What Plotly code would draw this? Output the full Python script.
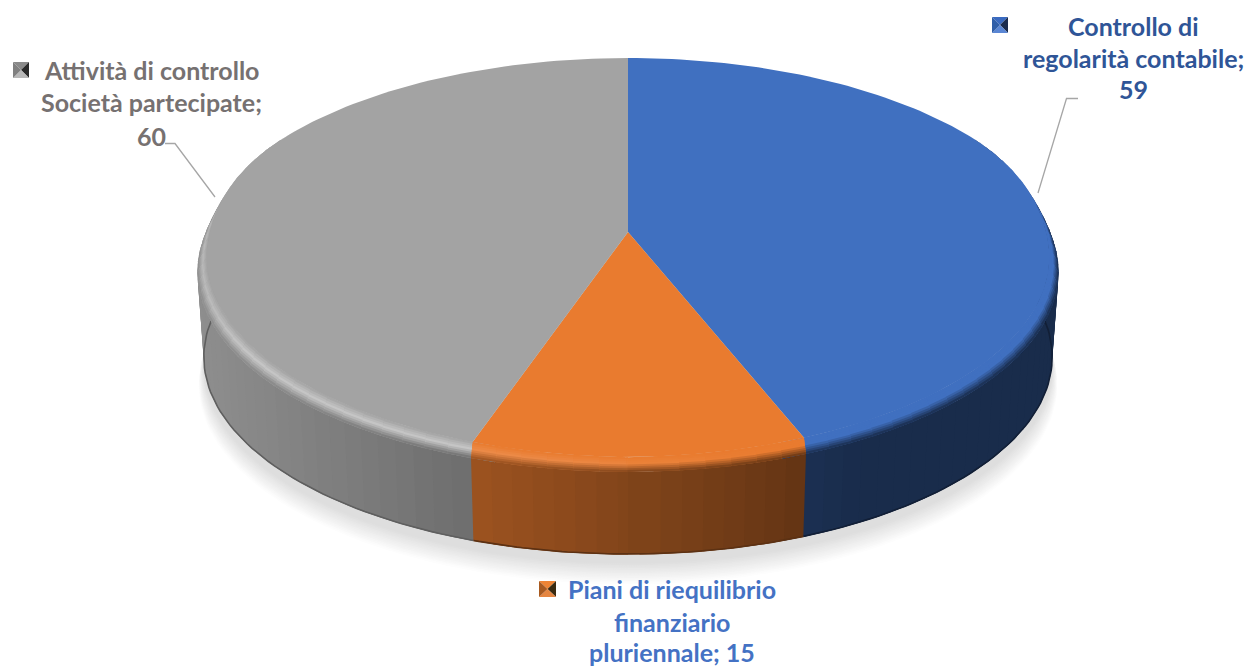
import numpy as np
import plotly.graph_objects as go

# ---- data (clockwise from 12 o'clock) ----
categories = ["Controllo di regolarità contabile", "Piani di riequilibrio finanziario pluriennale",
              "Attività di controllo Società partecipate"]
values = [59, 15, 60]
label_lines = [["Controllo di", "regolarità contabile;", "{v}"],
               ["Piani di riequilibrio", "finanziario", "pluriennale; {v}"],
               ["Attività di controllo", "Società partecipate;", "{v}"]]
top_colors = ["#4070c0", "#e97b2f", "#a3a3a3"]
text_colors = ["#2f5597", "#4472c4", "#767171"]
highlight = [0.04, 0.12, 0.38]

W, H = 1251, 668
CX, CY = 628.0, 232.0
A, B, RX = 196.6, 0.13, 427.0
FONT = "Lato"
FS = 25.0


def proj(t, r=1.0, dy=0.0, s=1.0, yc=CY):
    u, v = r * np.sin(t), r * np.cos(t)
    d = 1 + B * v
    return CX + s * RX * u / d, yc + dy - s * A * v / d


def smooth(x):
    x = np.clip(x, 0, 1)
    return x * x * (3 - 2 * x)


def flat_edge(t):
    w = smooth((0.55 - np.cos(t)) / 0.6)
    return proj(t, r=1 - 0.021 * w * (0.15 + 0.85 * np.abs(np.sin(t))))


def rim_edge(t):
    return proj(t, dy=14 * smooth((0.5 - np.cos(t)) / 0.5))


def wall_bottom(t):
    return proj(t, s=0.985, yc=332.0)


def rgb(h):
    return np.array([int(h[i:i + 2], 16) for i in (1, 3, 5)], float)


def col(c):
    return "rgb(%d,%d,%d)" % tuple(np.clip(np.round(c), 0, 255))


def wall_ratio(x):
    return max(0.39, 0.87 - 0.00073 * (x - 200))


def hl_gain(x):
    return float(smooth((x - 195) / 60) * 0.4 + 0.6) * float(smooth((820 - x) / 340))


fig = go.Figure()


def poly(xs, ys, fill):
    fig.add_trace(go.Scatter(x=xs, y=ys, mode="lines", fill="toself", fillcolor=fill,
                             line=dict(width=0), hoverinfo="skip", showlegend=False))


# angular extents from the values
frac = np.cumsum([0] + values) / sum(values)
starts, ends = frac[:-1] * 2 * np.pi, frac[1:] * 2 * np.pi


def cells(lo, hi, step):
    out = []
    for i in range(3):
        a, b = max(starts[i], np.radians(lo)), min(ends[i], np.radians(hi))
        if b <= a:
            continue
        ts = np.linspace(a, b, max(2, int((b - a) / np.radians(step)) + 1))
        for t0, t1 in zip(ts[:-1], ts[1:]):
            # overlap toward the front so no seams show between painted strips
            ov = np.radians(step)
            if t1 <= np.pi:
                t1e, t0e = min(t1 + ov, np.pi), t0
            else:
                t1e, t0e = t1, max(t0 - ov, np.pi)
            out.append((i, t0e, t1e, (t0 + t1) / 2))
    out.sort(key=lambda c: -abs(c[3] - np.pi))
    return out


# soft shadow below the disc
tt = np.linspace(0, 2 * np.pi, 181)
for k, g in zip(np.linspace(1, 0, 14), np.linspace(253, 222, 14)):
    x, y = proj(tt, s=0.985 + 0.012 * k, yc=332.0 + 9 + 18 * k)
    poly(x, y, col(np.array([g, g, g])))

# side wall, back to front
for i, t0, t1, tm in cells(60, 300, 2.5):
    x0, y0 = rim_edge(np.array([t0, t1]))
    x1, y1 = wall_bottom(np.array([t1, t0]))
    xm = float(proj(tm)[0])
    poly(np.r_[x0, x1], np.r_[y0, y1], col(rgb(top_colors[i]) * wall_ratio(xm)))

# darker line along the foot of the wall
for i in range(3):
    a, b = max(starts[i], np.radians(80)), min(ends[i], np.radians(280))
    ts = np.linspace(a, b, 60)
    x, y = wall_bottom(ts)
    fig.add_trace(go.Scatter(x=x, y=y - 0.6, mode="lines", hoverinfo="skip", showlegend=False,
                             line=dict(color=col(rgb(top_colors[i]) * wall_ratio(x.mean()) * 0.72), width=1.6)))

# bevel between flat top and wall
lams = np.linspace(0, 1, 9)
for i, t0, t1, tm in cells(55, 305, 3):
    base = rgb(top_colors[i])
    tp = np.array([t0, t1])
    fx, fy = flat_edge(tp)
    rx, ry = rim_edge(tp)
    xm = float(flat_edge(tm)[0])
    hi = base + (255 - base) * highlight[i] * hl_gain(xm)
    wl = base * wall_ratio(xm)
    for l0, l1 in zip(lams[:-1], lams[1:]):
        lm = (l0 + l1) / 2
        c = base + (hi - base) * lm / 0.45 if lm < 0.45 else hi + (wl - hi) * (lm - 0.45) / 0.55
        le = min(1.0, l1 + 0.125)
        xa, ya = fx + (rx - fx) * l0, fy + (ry - fy) * l0
        xb, yb = fx + (rx - fx) * le, fy + (ry - fy) * le
        poly(np.r_[xa, xb[::-1]], np.r_[ya, yb[::-1]], col(c))

# flat top of the slices
for i in range(3):
    ts = np.linspace(starts[i], ends[i], 120)
    x, y = flat_edge(ts)
    poly(np.r_[CX, x], np.r_[CY, y], top_colors[i])

# labels
label_pos = [(1133, [26, 58, 89]), (672, [589, 622, 652]), (151, [70, 102, 136])]
anns = []
for i, (xc, ys) in enumerate(label_pos):
    for line, yy in zip(label_lines[i], ys):
        anns.append(dict(x=xc, y=yy, xref="x", yref="y", showarrow=False, xanchor="center", yanchor="middle",
                         text="<b>%s</b>" % line.format(v=values[i]),
                         font=dict(family=FONT, size=FS, color=text_colors[i])))

# leader lines and pyramid legend keys
shapes = []
for path in ["M1038,193 L1066.5,98.5 L1078,98.5", "M215,197 L175,143.5 L165,143.5"]:
    shapes.append(dict(type="path", path=path, line=dict(color="#a6a6a6", width=1.3), xref="x", yref="y"))
keys = [((992, 17, 1008, 33), ["#3a6ac0", "#1a2b4d", "#5a86d4", "#2f5ea8"]),
        ((539, 581, 556, 597), ["#ee8434", "#3a2a10", "#e58540", "#a85a20"]),
        ((13, 62, 29, 78), ["#8a8a8a", "#2a2a2a", "#b8b8b8", "#808080"])]
for (x0, y0, x1, y1), (ct, cr, cb, cl) in keys:
    mx, my = (x0 + x1) / 2, (y0 + y1) / 2
    for pts, c in [(((x0, y0), (x1, y0)), ct), (((x1, y0), (x1, y1)), cr),
                   (((x1, y1), (x0, y1)), cb), (((x0, y1), (x0, y0)), cl)]:
        p = "M%g,%g L%g,%g L%g,%g Z" % (pts[0] + pts[1] + (mx, my))
        shapes.append(dict(type="path", path=p, fillcolor=c, line=dict(width=0), xref="x", yref="y"))

fig.update_layout(width=W, height=H, margin=dict(l=0, r=0, t=0, b=0), paper_bgcolor="white", plot_bgcolor="white",
                  showlegend=False, annotations=anns, shapes=shapes,
                  xaxis=dict(range=[0, W], visible=False, fixedrange=True),
                  yaxis=dict(range=[H, 0], visible=False, fixedrange=True))
fig.write_html("out.html", post_script="document.body.style.margin='0';document.body.style.overflow='hidden';",
               config=dict(displayModeBar=False))
